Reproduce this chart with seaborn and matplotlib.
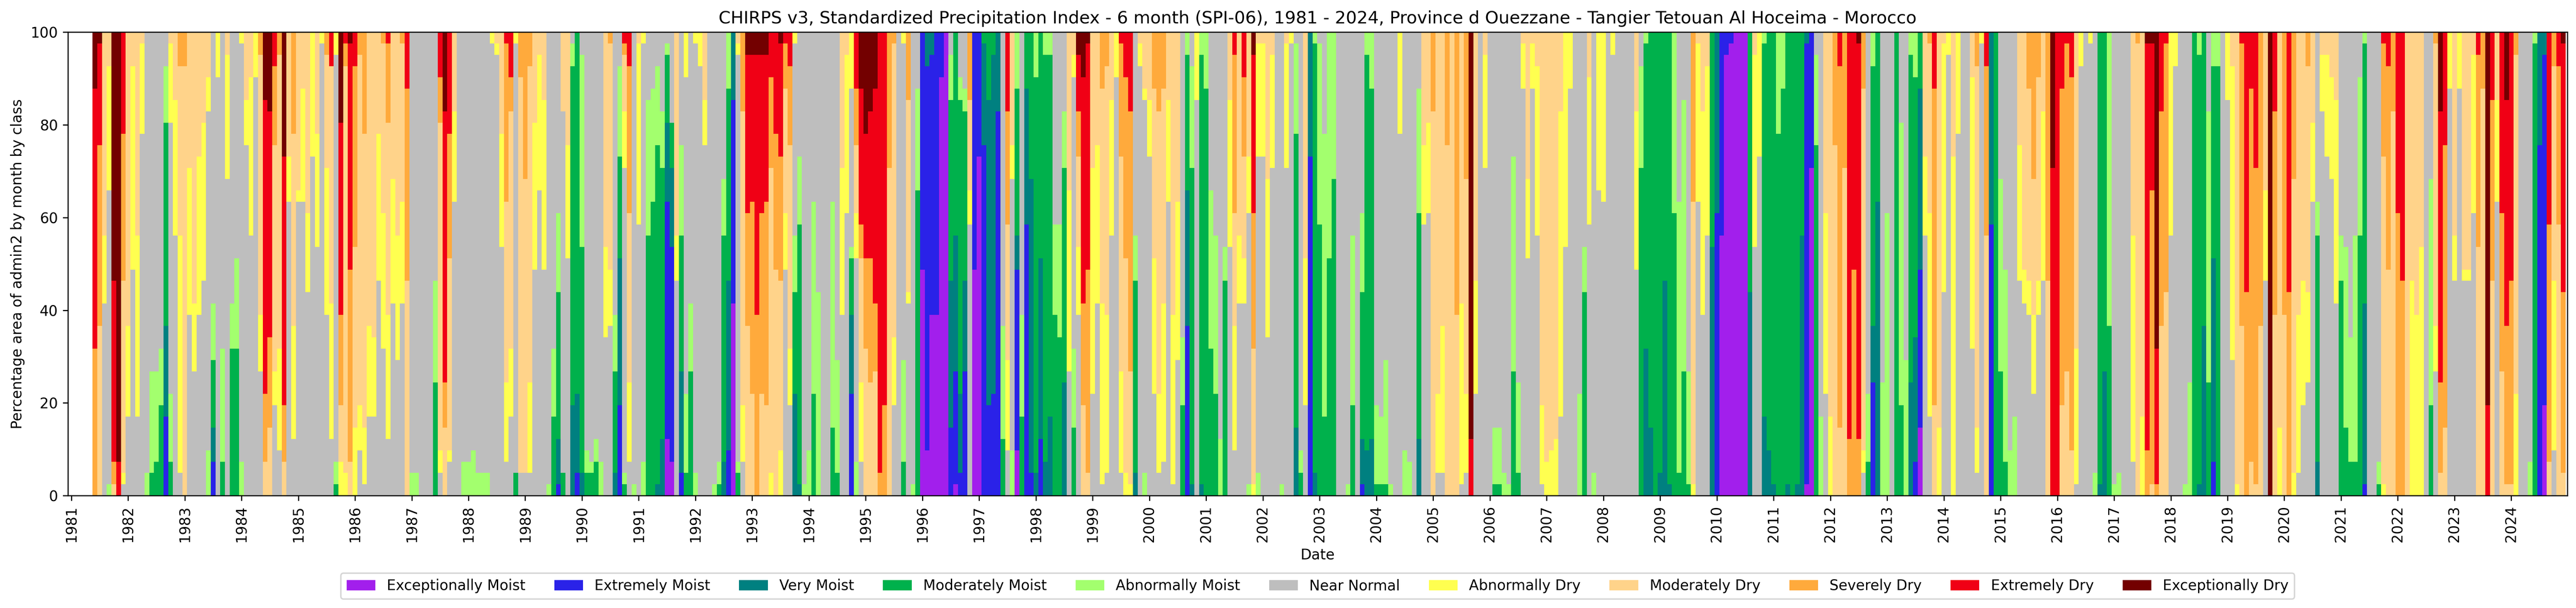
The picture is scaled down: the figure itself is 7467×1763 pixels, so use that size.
import re
import pandas as pd
import matplotlib
matplotlib.use("Agg")
import matplotlib.pyplot as plt
from matplotlib.patches import Patch
import seaborn as sns

CLASS_CODES = ["P", "B", "T", "G", "L", "N", "Y", "o", "S", "R", "D"]
CLASS_NAMES = ["Exceptionally Moist", "Extremely Moist", "Very Moist", "Moderately Moist",
               "Abnormally Moist", "Near Normal", "Abnormally Dry", "Moderately Dry",
               "Severely Dry", "Extremely Dry", "Exceptionally Dry"]
CLASS_COLORS = ["#A21FEC", "#2A22E8", "#008080", "#00B14C", "#A3FF6E", "#BEBEBE",
                "#FFFF50", "#FFD38A", "#FFAA3C", "#F00015", "#730000"]
CELLS = 41  # the province covers 41 grid cells; each code is class + cumulative cells

# months of each year, June 1981 to December 2024
y1981 = "S13 R36 D41|o15 S31 R40 D41|N17 Y23 o41|L1 N27 Y38 o41|o1 S3 R19 D41|R3 D41|N1 Y2 o19 S32 R41".split("|")
y1982 = "N7 Y15 o41|N20 Y38 o41|N7 Y23 o41|N32 Y40 o41|L2 N41|G2 L11 N41|G3 L11 N41|G8 L13 N41|B7 T15 G33 L38 N41|G3 L9 N33 Y40 o41|N23 Y35 o41|N2 Y23 o38 S41".split("|")
y1983 = "o38 S41|N16 Y29 o41|N11 Y17 o41|N16 Y30 o41|N19 Y33 o41|L4 N34 Y37 o41|B3 T6 G12 L17 N41|N37 Y41|G3 L13 N41|N28 Y39 o41|G13 L17 N41|G13 L21 N41".split("|")
y1984 = "L3 N40 Y41|N31 Y35 o41|N23 Y37 o41|N37 Y41|N11 Y16 o39 S41|o3 S9 R35 D41|o6 S14 R34 D41|N8 Y11 o31 S38 R41|N4 Y13 o39 S41|o3 S8 R30 D41|N26 Y30 o41|N5 Y15 o32 S41".split("|")
y1985 = "N26 Y27 o41|N26 Y36 o41|N18 Y25 o41|N30 Y41|N22 Y32 o41|N40 Y41|N16 Y29 o39 S41|N5 Y17 o38 R41|G1 L3 N39 Y41|Y3 o8 S16 R33 D41|Y2 o38 S40 R41|o3 S20 R40 D41".split("|")
y1986 = "Y6 o22 S38 R41|N4 Y8 o39 S41|N1 Y6 o32 S41|N7 Y15 o41|N7 Y14 o41|N19 Y32 o41|N13 Y25 o40 S41|N5 Y16 o33 S40 R41|N17 Y28 o41|N12 Y23 o41|N17 Y26 o40 S41|o19 S36 R41".split("|")
y1987 = "L2 N41|L2 N41|N41|N41|N41|G10 L19 N41|N2 Y4 o33 S37 R41|o6 S10 R34 D41|N3 Y4 o21 S32 R41|N26 Y34 o41|N41|L3 N41".split("|")
y1988 = "L3 N41|L4 N41|L2 N41|L2 N41|L2 N41|N40 Y41|N39 Y40 o41|N22 Y32 o41|N3 Y10 o26 S40 R41|N7 Y13 o34 S37 R41|G2 N40 Y41|N2 o37 S41".split("|")
y1989 = "N2 o28 S41|N2 Y10 o38 S41|N20 Y33 o41|N27 Y39 o41|N20 Y35 o41|L1 N41|G7 L13 N41|B1 T5 G18 L25 N41|G2 N34 o41|N21 Y31 o41|T8 G38 L40 N41|B2 T9 G41".split("|")
y1990 = "T2 G22 L39 N41|G2 L4 N41|G2 L3 N41|G3 L5 N41|L3 N41|N14 Y22 o41|N15 Y20 o40 S41|T2 G11 L16 N41|B8 T21 G30 L38 N41|G1 L2 N29 Y34 o39 S40 R41|N3 Y10 o25 S38 R41|L1 N41".split("|")
y1991 = "N24 Y40 o41|L3 N40 Y41|G23 L35 N41|G26 L36 N41|T1 G31 L38 N41|T5 G29 L34 N41|P5 B26 T33 G39 L40 N41|P3 B22 T29 G33 N41|N19 Y23 o41|B2 T11 G23 L31 N41|G2 L9 N37 Y41|G11 L17 N41".split("|")
y1992 = "L2 N40 Y41|N38 Y41|N31 Y35 o41|N41|L1 N41|G1 L3 N41|T3 G23 L28 N41|B4 T19 G36 L41|P17 B35 T41|G2 L3 N39 Y40 o41|N3 Y8 o34 S41|o15 S25 R39 D41".split("|")
y1993 = "o9 S26 R39 D41|S16 R39 D41|o9 S25 R39 D41|o8 S26 R39 D41|Y2 o29 S37 R41|o20 S32 R41|Y4 o19 S30 R40 D41|N20 Y25 o36 S40 R41|N8 Y13 o31 S38 R41|T9 G18 L23 N40 Y41|T1 G24 L30 N41|L1 N41".split("|")
y1994 = "L4 N41|G9 L26 N41|L18 N41|N41|N41|G6 L26 N41|G2 L12 N41|N16 Y29 o41|N25 Y39 o41|B9 T16 G21 L22 N36 Y41|L3 N21 Y25 o31 S36 R41|N3 Y10 o21 S24 R36 D41".split("|")
y1995 = "o13 S21 R32 D41|o10 S21 R34 D41|o11 S17 R36 D41|S2 R41|S8 R41|o29 S41|N8 Y14 o40 S41|N41|G3 L12 N40 Y41|N17 Y18 o35 S41|L1 N41|G27 L36 N41".split("|")
y1996 = "P20 B41|P4 B38 T41|P16 B39 T41|P16 B41|P37 B41|P41|B6 T19 G35 L39 N41|P1 B11 T23 G41|B2 T9 G35 L37 N41|B11 T19 G34 L36 N41|N24 Y27 o35 S41|P20 B41".split("|")
y1997 = "P30 B41|B31 T40 G41|B8 T35 G41|B9 T39 G41|B34 T41|G5 L15 N41|N4 Y12 o24 S34 R41|L4 N28 Y31 o41|P4 B20 T23 G36 L41|G7 L16 N41|B24 T36 G41|B2 T28 G41".split("|")
y1998 = "T2 G37 L41|B5 T21 G41|T3 G39 L41|T7 G39 L41|G16 L24 N41|G14 L24 N41|T10 G29 L34 N41|N11 Y27 o41|G6 L13 N37 Y39 o41|N16 Y22 o30 S34 R39 D41|o8 S17 R37 D41|o2 S20 R40 D41".split("|")
y1999 = "N9 Y29 o41|N17 Y31 o41|N1 Y17 o36 S41|N2 Y16 o38 S41|N23 Y35 o41|N37 Y41|N2 Y11 o30 S40 R41|Y2 o21 S37 R41|Y1 o11 S34 R41|T2 G19 L23 N41|N38 Y40 o41|L2 N35 Y36 o41".split("|")
y2000 = "N30 Y35 o41|N9 Y21 o36 S41|N2 Y9 o34 S41|N3 Y17 o36 S41|N26 Y35 o41|N1 Y16 o41|N12 Y26 o41|G8 L14 N41|B15 T27 G39 L41|T1 G29 L38 N41|N35 Y41|T1 G39 L41".split("|")
y2001 = "G36 L41|G13 L27 N41|G9 L23 N41|L5 N41|G19 L22 N41|N22 Y35 o41|N4 Y15 o25 S39 R41|N17 Y23 o41|N17 Y21 o30 S37 R41|L1 N25 Y30 o41|Y1 o13 S25 R39 D41|L2 N30 Y40 o41".split("|")
y2002 = "N30 Y40 o41|N14 Y28 o41|N29 Y39 o41|N41|L1 N41|N29 Y40 o41|N40 Y41|T6 G32 L40 N41|G2 L4 N41|N8 Y21 o41|B30 T41|T2 G40 L41".split("|")
y2003 = "G24 L40 N41|G7 L32 N41|G21 L41|G28 L41|N41|N41|L1 N41|G8 L23 N41|N41|B1 T5 G18 L25 N41|T4 G39 L41|T5 G36 L41".split("|")
y2004 = "G1 L8 N41|G1 L7 N41|G1 L12 N41|L1 N41|N41|N32 Y41|L4 N41|L3 N41|N41|T5 G25 L36 N41|N24 Y31 o41|N25 Y33 o41".split("|")
y2005 = "o34 S41|N2 Y9 o41|N2 Y15 o41|o31 S41|o41|o16 S41|N1 Y17 o41|N2 Y9 o28 S41|R5 D41|N9 Y19 o41|N41|N29 Y39 o41".split("|")
y2006 = "N41|G1 L6 N41|G1 L6 N41|L2 N41|L1 N41|G11 L30 N41|G2 L10 N41|N36 Y40 o41|N21 Y28 o41|N36 Y40 o41|N23 Y38 o41|N1 Y8 o41".split("|")
y2007 = "Y3 o41|Y4 o41|Y5 o41|N7 Y34 o41|N22 Y41|N36 Y41|N41|L9 N41|G18 L22 N41|N24 Y37 o41|L2 N41|N27 Y41".split("|")
y2008 = "N26 Y41|N41|N39 Y41|N41|N41|N41|N41|N20 Y34 o41|G29 L38 N41|T13 G40 L41|T6 G41|G41".split("|")
y2009 = "T2 G41|T19 G41|T1 G41|G25 L41|G2 L26 N41|G11 L35 N41|G1 L11 N41|Y1 o26 S41|N26 Y40 o41|N16 Y34 o41|N23 Y38 o41|T22 G41".split("|")
y2010 = "B25 T41|P23 B41|P39 B41|P40 B41|P41|P41|P41|T18 G41|N22 Y39 o41|N30 Y41|T7 G40 L41|T4 G41".split("|")
y2011 = "T1 G41|G32 L41|G36 L41|T1 G41|G41|T1 G41|T23 G41|P1 B40 T41|P29 B41|G31 L39 N41|L7 N41|N9 Y25 o41".split("|")
y2012 = "Y7 o41|o31 S41|o6 S38 R41|o29 S41|S5 R41|S20 R41|S5 R40 D41|N2 Y4 o36 S41|G3 L9 N41|B10 T15 G38 L41|T26 G41|L10 N41".split("|")
y2013 = "L25 N41|N41|G41|G8 L33 N41|L12 N41|T10 G39 L41|B3 T14 G37 L41|P6 B20 T36 G41|N23 Y30 o41|N7 Y25 o40 S41|o8 S36 R41|Y6 o41".split("|")
y2014 = "N18 Y40 o41|N39 Y41|Y30 o41|N32 Y41|N41|N41|N13 Y37 o41|N2 Y6 o38 S41|N40 Y41|o23 S38 R41|B24 T41|G41".split("|")
y2015 = "G11 L28 N41|G3 L20 N41|L4 N41|L7 N41|N19 Y31 o41|N17 Y20 o41|N16 Y19 o36 S41|N9 Y16 o28 S41|N16 Y19 o37 S41|N19 Y34 o41|o19 S41|R29 D41".split("|")
y2016 = "R41|o8 S36 R41|o11 S40 R41|o4 S37 R41|N1 Y13 o41|N38 Y41|N41|N40 Y41|L2 N41|T1 G41|T11 G41|G15 L41".split("|")
y2017 = "L1 N41|L2 N41|N41|N41|N3 Y23 o41|o40 S41|Y7 o41|S4 R40 D41|o1 S27 R40 D41|S1 R13 D41|o15 S34 R41|o18 S40 R41".split("|")
y2018 = "N23 Y41|N38 Y41|N41|L1 N41|L10 N41|G41|T1 G39 L41|T15 G41|G10 L34 N41|B3 T21 G38 L41|G38 L41|N41".split("|")
y2019 = "N35 Y41|N12 Y38 o41|Y1 o41|o15 S40 R41|S18 R41|o3 S36 R41|o1 S29 R41|o15 S41|N19 Y27 o41|D41|o16 S34 R41|Y6 o41".split("|")
y2020 = "o16 S41|S18 R41|Y2 o28 S41|N2 Y16 o41|N8 Y19 o41|N10 Y18 o38 S41|N26 Y33 o41|T3 G23 L26 N41|N34 Y39 o41|N30 Y39 o41|N28 Y37 o41|N17 Y35 o41".split("|")
y2021 = "G19 L23 N41|G6 L22 N41|G3 L14 N41|G3 L23 N41|G23 L37 N41|B1 T17 G40 L41|N41|N41|G1 L3 N41|Y1 o30 S40 R41|o20 S38 R41|o34 S41".split("|")
y2022 = "S25 R41|S19 R41|o41|Y19 o41|Y16 o41|Y22 o41|N41|G8 L28 N41|N11 Y15 o40 S41|o2 S10 R34 D41|o6 S31 R41|N36 Y41".split("|")
y2023 = "N19 Y23 o41|N36 Y41|N19 Y20 o41|N19 Y20 o41|N25 Y39 o41|o22 S39 R41|o36 S41|R8 D41|o19 S35 R41|N26 Y35 o41|o11 S25 R41|o1 S15 R35 D41".split("|")
y2024 = "o1 S19 R41|Y9 o39 S41|N41|N41|L3 N41|G40 L41|B31 T41|P8 B39 T41|o3 S24 R41|N4 Y19 o38 S41|o24 S38 R41|o2 S18 R40 D41".split("|")

YEARS = list(range(1981, 2025))
year_rows = [y1981, y1982, y1983, y1984, y1985, y1986, y1987, y1988, y1989, y1990, y1991,
             y1992, y1993, y1994, y1995, y1996, y1997, y1998, y1999, y2000, y2001, y2002,
             y2003, y2004, y2005, y2006, y2007, y2008, y2009, y2010, y2011, y2012, y2013,
             y2014, y2015, y2016, y2017, y2018, y2019, y2020, y2021, y2022, y2023, y2024]

name_of = dict(zip(CLASS_CODES, CLASS_NAMES))
rows = []
for year, months in zip(YEARS, year_rows):
    first_month = 13 - len(months)
    for k, code in enumerate(months):
        month_index = (year - 1981) * 12 + first_month - 1 + k
        previous = 0
        for cls, top in re.findall(r"([A-Za-z])(\d+)", code):
            top = int(top)
            rows.append((month_index, name_of[cls], (top - previous) * 100 / CELLS))
            previous = top
df = pd.DataFrame(rows, columns=["month", "cls", "pct"])

W, H = 7467, 1763
fig = plt.figure(figsize=(W / 300, H / 300), dpi=300)
ax = fig.add_axes([197 / W, 1 - 1437 / H, (7442 - 197) / W, (1437 - 93.4) / H])

sns.histplot(data=df, x="month", weights="pct", hue="cls",
             hue_order=CLASS_NAMES[::-1], palette=dict(zip(CLASS_NAMES, CLASS_COLORS)),
             multiple="stack", discrete=True, shrink=1, alpha=1, linewidth=0,
             edgecolor="none", antialiased=False, legend=False, ax=ax)

ax.set_xlim(-0.70, 527.86)
ax.set_ylim(0, 100)
ax.set_yticks(range(0, 101, 20))
ax.set_xticks([(y - 1981) * 12 for y in YEARS])
ax.set_xticklabels([str(y) for y in YEARS], rotation=90, fontsize=10)
ax.tick_params(axis="y", labelsize=10)
ax.set_xlabel("Date", fontsize=10)
ax.set_ylabel("Percentage area of admin2 by month by class", fontsize=10)
ax.set_title("CHIRPS v3, Standardized Precipitation Index - 6 month (SPI-06), 1981 - 2024, "
             "Province d Ouezzane - Tangier Tetouan Al Hoceima - Morocco", fontsize=12)

handles = [Patch(facecolor=c, label=n) for n, c in zip(CLASS_NAMES, CLASS_COLORS)]
ax.legend(handles=handles, loc="lower center", bbox_to_anchor=((197 + 7442) / 2 / W, 5 / H),
          ncol=11, fontsize=10, bbox_transform=fig.transFigure, frameon=True)

fig.savefig("out.png", dpi=300)
